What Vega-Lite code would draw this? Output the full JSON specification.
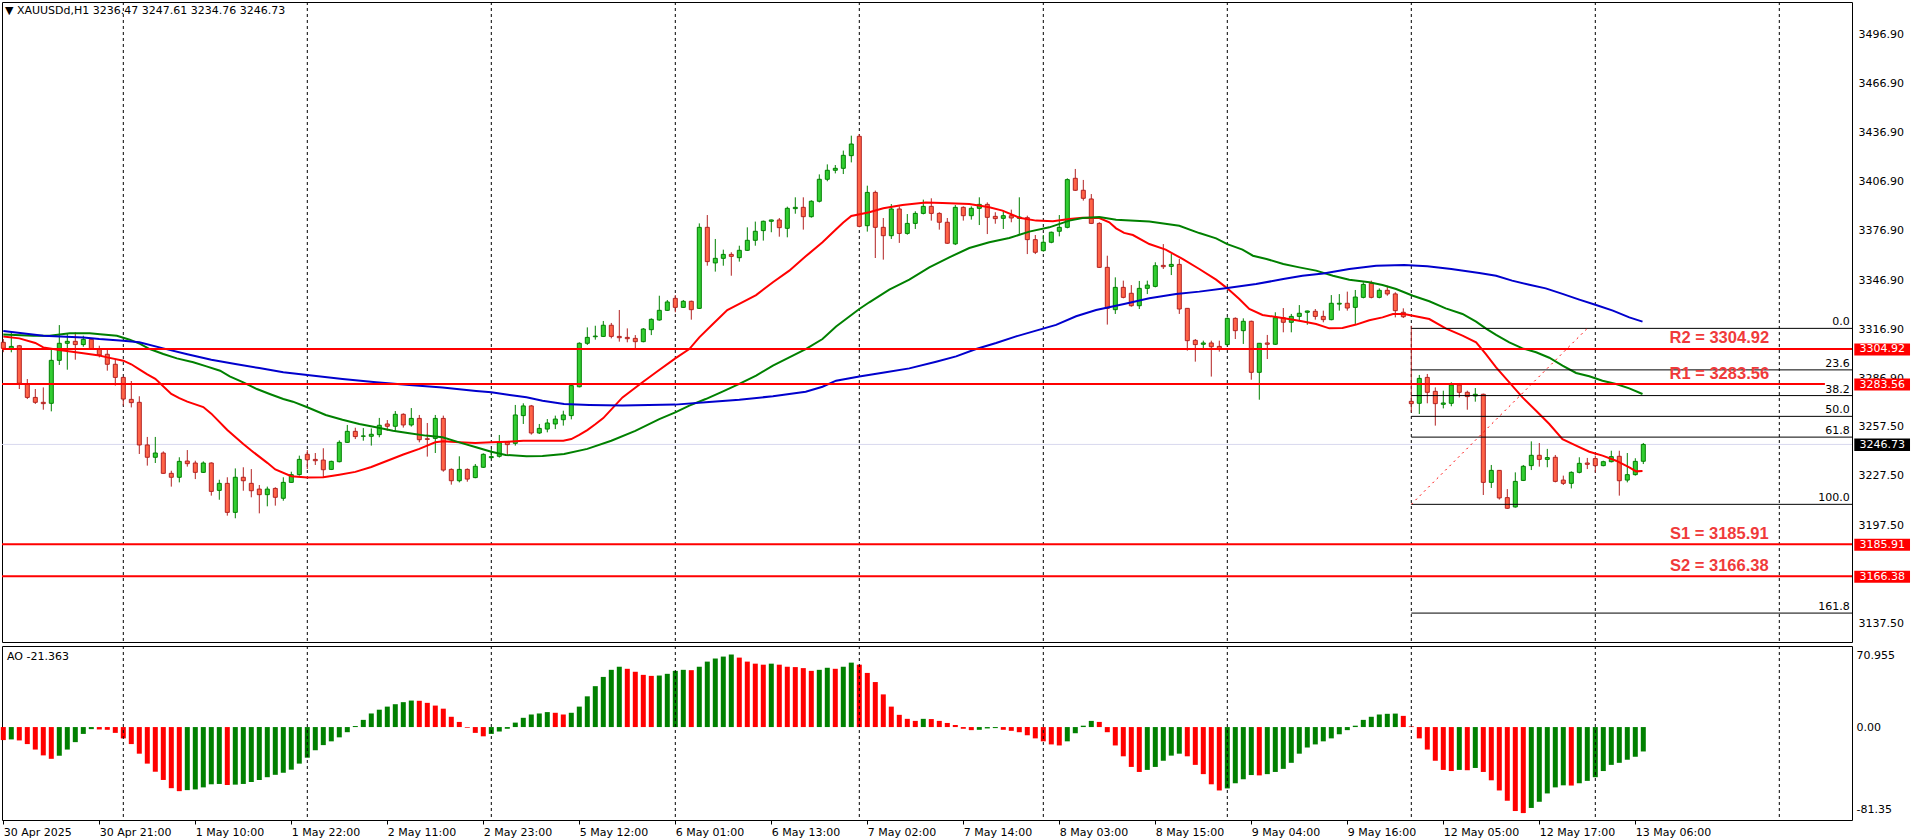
{
  "$schema": "https://vega.github.io/schema/vega-lite/v6.json",
  "background": "#ffffff",
  "padding": {"left": -2, "top": 1, "right": 0, "bottom": 0},
  "spacing": 2,
  "resolve": {"scale": {"color": "independent"}},
  "config": {
    "font": "DejaVu Sans",
    "view": {"stroke": "#000000", "strokeWidth": 1},
    "axis": {"labelFont": "DejaVu Sans", "labelFontSize": 11, "labelColor": "#000000"}
  },
  "datasets": {
    "days": [{"i": 15}, {"i": 38}, {"i": 61}, {"i": 84}, {"i": 107}, {"i": 130}, {"i": 153}, {"i": 176}, {"i": 199}, {"i": 222}],
    "last": [{"p": 3246.73}],
    "levels": [
      {"n": "R2", "p": 3304.92, "lab": "R2 = 3304.92"},
      {"n": "R1", "p": 3283.56, "lab": "R1 = 3283.56"},
      {"n": "S1", "p": 3185.91, "lab": "S1 = 3185.91"},
      {"n": "S2", "p": 3166.38, "lab": "S2 = 3166.38"}
    ],
    "fib": [
      {"l": "0.0", "p": 3317.5},
      {"l": "23.6", "p": 3292.18},
      {"l": "38.2", "p": 3276.51},
      {"l": "50.0", "p": 3263.85},
      {"l": "61.8", "p": 3251.19},
      {"l": "100.0", "p": 3210.2},
      {"l": "161.8", "p": 3143.89}
    ],
    "trend": [{"i": 176, "p": 3210.2}, {"i": 198, "p": 3317.5}],
    "candles": [
      {"i":0,"o":3309.0,"h":3311.0,"l":3303.0,"c":3305.3},
      {"i":1,"o":3305.3,"h":3315.1,"l":3302.9,"c":3306.5},
      {"i":2,"o":3306.9,"h":3307.4,"l":3280.5,"c":3284.0},
      {"i":3,"o":3283.8,"h":3286.6,"l":3274.4,"c":3275.4},
      {"i":4,"o":3275.4,"h":3280.5,"l":3271.4,"c":3272.4},
      {"i":5,"o":3272.4,"h":3281.5,"l":3267.9,"c":3271.6},
      {"i":6,"o":3271.8,"h":3304.3,"l":3266.9,"c":3298.0},
      {"i":7,"o":3298.0,"h":3319.5,"l":3295.2,"c":3308.4},
      {"i":8,"o":3308.4,"h":3314.1,"l":3292.3,"c":3309.6},
      {"i":9,"o":3309.6,"h":3315.1,"l":3298.4,"c":3307.6},
      {"i":10,"o":3307.6,"h":3313.0,"l":3306.3,"c":3310.8},
      {"i":11,"o":3310.8,"h":3311.0,"l":3304.5,"c":3304.7},
      {"i":12,"o":3304.7,"h":3306.9,"l":3299.8,"c":3301.3},
      {"i":13,"o":3301.7,"h":3304.5,"l":3291.7,"c":3295.6},
      {"i":14,"o":3295.6,"h":3298.2,"l":3282.6,"c":3287.6},
      {"i":15,"o":3287.6,"h":3288.0,"l":3270.4,"c":3274.4},
      {"i":16,"o":3274.2,"h":3285.4,"l":3269.3,"c":3272.2},
      {"i":17,"o":3272.4,"h":3276.1,"l":3240.9,"c":3246.4},
      {"i":18,"o":3246.4,"h":3251.3,"l":3233.8,"c":3238.9},
      {"i":19,"o":3238.9,"h":3251.3,"l":3235.4,"c":3241.5},
      {"i":20,"o":3241.5,"h":3242.5,"l":3228.9,"c":3229.1},
      {"i":21,"o":3229.1,"h":3230.7,"l":3221.0,"c":3226.7},
      {"i":22,"o":3226.7,"h":3238.9,"l":3223.6,"c":3236.4},
      {"i":23,"o":3236.6,"h":3243.3,"l":3233.2,"c":3235.0},
      {"i":24,"o":3235.4,"h":3236.8,"l":3225.6,"c":3229.7},
      {"i":25,"o":3229.7,"h":3236.4,"l":3229.3,"c":3235.4},
      {"i":26,"o":3235.4,"h":3235.8,"l":3215.5,"c":3218.1},
      {"i":27,"o":3218.7,"h":3225.2,"l":3213.0,"c":3223.0},
      {"i":28,"o":3223.0,"h":3226.7,"l":3203.3,"c":3205.3},
      {"i":29,"o":3205.3,"h":3232.1,"l":3201.7,"c":3226.7},
      {"i":30,"o":3226.7,"h":3232.8,"l":3218.5,"c":3224.6},
      {"i":31,"o":3223.0,"h":3231.7,"l":3214.5,"c":3218.5},
      {"i":32,"o":3219.5,"h":3222.0,"l":3204.7,"c":3216.1},
      {"i":33,"o":3216.1,"h":3221.0,"l":3209.0,"c":3219.5},
      {"i":34,"o":3219.9,"h":3220.6,"l":3209.4,"c":3214.5},
      {"i":35,"o":3213.9,"h":3226.7,"l":3212.4,"c":3223.6},
      {"i":36,"o":3223.6,"h":3230.1,"l":3223.4,"c":3228.3},
      {"i":37,"o":3228.3,"h":3239.9,"l":3227.7,"c":3237.6},
      {"i":38,"o":3240.7,"h":3243.3,"l":3231.7,"c":3237.4},
      {"i":39,"o":3237.6,"h":3241.5,"l":3234.2,"c":3236.8},
      {"i":40,"o":3237.2,"h":3244.4,"l":3226.7,"c":3231.3},
      {"i":41,"o":3231.5,"h":3236.8,"l":3231.1,"c":3236.4},
      {"i":42,"o":3236.2,"h":3249.2,"l":3235.8,"c":3248.0},
      {"i":43,"o":3248.0,"h":3258.6,"l":3247.6,"c":3254.7},
      {"i":44,"o":3254.7,"h":3256.9,"l":3250.0,"c":3251.5},
      {"i":45,"o":3251.7,"h":3256.7,"l":3249.0,"c":3251.9},
      {"i":46,"o":3251.7,"h":3256.5,"l":3246.0,"c":3252.9},
      {"i":47,"o":3252.7,"h":3262.9,"l":3251.1,"c":3258.4},
      {"i":48,"o":3259.2,"h":3261.6,"l":3255.1,"c":3257.8},
      {"i":49,"o":3257.8,"h":3267.1,"l":3255.1,"c":3265.1},
      {"i":50,"o":3265.1,"h":3265.7,"l":3257.0,"c":3258.6},
      {"i":51,"o":3258.6,"h":3268.9,"l":3257.6,"c":3262.6},
      {"i":52,"o":3262.6,"h":3264.7,"l":3248.0,"c":3249.6},
      {"i":53,"o":3250.2,"h":3259.8,"l":3239.3,"c":3249.8},
      {"i":54,"o":3250.4,"h":3264.7,"l":3241.5,"c":3262.6},
      {"i":55,"o":3262.6,"h":3264.3,"l":3230.1,"c":3231.1},
      {"i":56,"o":3231.5,"h":3232.1,"l":3222.2,"c":3224.6},
      {"i":57,"o":3224.6,"h":3239.5,"l":3223.6,"c":3231.5},
      {"i":58,"o":3231.5,"h":3232.1,"l":3224.0,"c":3225.6},
      {"i":59,"o":3226.5,"h":3234.8,"l":3226.1,"c":3233.4},
      {"i":60,"o":3232.8,"h":3241.3,"l":3232.4,"c":3240.7},
      {"i":61,"o":3238.7,"h":3244.0,"l":3237.8,"c":3239.3},
      {"i":62,"o":3239.5,"h":3252.5,"l":3238.7,"c":3247.8},
      {"i":63,"o":3248.2,"h":3248.6,"l":3240.3,"c":3246.6},
      {"i":64,"o":3247.4,"h":3270.8,"l":3246.0,"c":3264.7},
      {"i":65,"o":3264.3,"h":3271.8,"l":3259.2,"c":3270.2},
      {"i":66,"o":3270.2,"h":3270.8,"l":3252.7,"c":3253.7},
      {"i":67,"o":3253.7,"h":3259.2,"l":3253.1,"c":3256.5},
      {"i":68,"o":3256.1,"h":3262.2,"l":3254.1,"c":3259.8},
      {"i":69,"o":3259.2,"h":3264.3,"l":3256.1,"c":3262.2},
      {"i":70,"o":3261.8,"h":3267.3,"l":3258.2,"c":3264.7},
      {"i":71,"o":3264.3,"h":3283.0,"l":3262.0,"c":3282.6},
      {"i":72,"o":3281.9,"h":3309.0,"l":3281.5,"c":3308.4},
      {"i":73,"o":3308.4,"h":3318.1,"l":3307.4,"c":3312.0},
      {"i":74,"o":3312.4,"h":3319.1,"l":3310.6,"c":3312.8},
      {"i":75,"o":3312.6,"h":3322.0,"l":3312.2,"c":3319.4},
      {"i":76,"o":3319.4,"h":3320.8,"l":3311.4,"c":3312.6},
      {"i":77,"o":3312.6,"h":3328.7,"l":3309.4,"c":3311.8},
      {"i":78,"o":3312.0,"h":3317.5,"l":3309.0,"c":3311.2},
      {"i":79,"o":3311.4,"h":3313.4,"l":3305.3,"c":3309.4},
      {"i":80,"o":3309.4,"h":3317.7,"l":3309.0,"c":3317.1},
      {"i":81,"o":3316.7,"h":3323.6,"l":3313.4,"c":3323.0},
      {"i":82,"o":3322.6,"h":3337.4,"l":3322.2,"c":3328.5},
      {"i":83,"o":3328.5,"h":3334.8,"l":3328.1,"c":3333.6},
      {"i":84,"o":3335.8,"h":3337.8,"l":3327.3,"c":3330.3},
      {"i":85,"o":3330.3,"h":3334.8,"l":3329.9,"c":3334.0},
      {"i":86,"o":3334.0,"h":3334.4,"l":3322.8,"c":3328.9},
      {"i":87,"o":3329.7,"h":3381.5,"l":3329.3,"c":3379.1},
      {"i":88,"o":3379.1,"h":3386.6,"l":3355.7,"c":3358.2},
      {"i":89,"o":3357.4,"h":3372.0,"l":3352.1,"c":3360.2},
      {"i":90,"o":3360.2,"h":3365.5,"l":3355.7,"c":3362.6},
      {"i":91,"o":3362.6,"h":3363.9,"l":3349.6,"c":3361.4},
      {"i":92,"o":3360.6,"h":3367.9,"l":3358.2,"c":3365.1},
      {"i":93,"o":3365.1,"h":3379.1,"l":3364.7,"c":3371.2},
      {"i":94,"o":3371.2,"h":3382.6,"l":3367.9,"c":3376.7},
      {"i":95,"o":3377.1,"h":3383.2,"l":3371.0,"c":3382.8},
      {"i":96,"o":3382.8,"h":3383.8,"l":3376.1,"c":3383.6},
      {"i":97,"o":3383.6,"h":3384.8,"l":3373.4,"c":3378.9},
      {"i":98,"o":3378.5,"h":3391.7,"l":3373.0,"c":3390.7},
      {"i":99,"o":3390.5,"h":3397.4,"l":3387.4,"c":3391.3},
      {"i":100,"o":3391.3,"h":3397.4,"l":3377.7,"c":3385.6},
      {"i":101,"o":3385.6,"h":3395.6,"l":3385.0,"c":3395.0},
      {"i":102,"o":3395.0,"h":3411.4,"l":3394.3,"c":3408.4},
      {"i":103,"o":3408.4,"h":3417.5,"l":3407.2,"c":3413.9},
      {"i":104,"o":3413.9,"h":3417.1,"l":3412.0,"c":3415.1},
      {"i":105,"o":3415.1,"h":3425.9,"l":3411.6,"c":3423.0},
      {"i":106,"o":3422.8,"h":3435.0,"l":3418.7,"c":3429.9},
      {"i":107,"o":3434.6,"h":3436.0,"l":3379.1,"c":3379.7},
      {"i":108,"o":3380.1,"h":3404.5,"l":3376.5,"c":3400.4},
      {"i":109,"o":3400.4,"h":3401.5,"l":3360.4,"c":3379.1},
      {"i":110,"o":3379.1,"h":3384.8,"l":3359.4,"c":3374.0},
      {"i":111,"o":3374.0,"h":3393.3,"l":3372.0,"c":3390.3},
      {"i":112,"o":3390.3,"h":3391.9,"l":3369.6,"c":3375.4},
      {"i":113,"o":3375.4,"h":3387.2,"l":3374.6,"c":3381.5},
      {"i":114,"o":3381.5,"h":3388.9,"l":3378.1,"c":3387.6},
      {"i":115,"o":3387.6,"h":3396.0,"l":3387.0,"c":3391.9},
      {"i":116,"o":3391.9,"h":3396.8,"l":3383.2,"c":3387.6},
      {"i":117,"o":3387.6,"h":3388.3,"l":3377.7,"c":3382.2},
      {"i":118,"o":3382.2,"h":3384.8,"l":3369.0,"c":3369.4},
      {"i":119,"o":3369.0,"h":3392.7,"l":3368.3,"c":3391.3},
      {"i":120,"o":3391.3,"h":3391.9,"l":3383.2,"c":3386.2},
      {"i":121,"o":3386.2,"h":3391.9,"l":3383.8,"c":3390.7},
      {"i":122,"o":3390.7,"h":3397.4,"l":3380.5,"c":3393.1},
      {"i":123,"o":3393.1,"h":3394.3,"l":3375.0,"c":3385.2},
      {"i":124,"o":3385.8,"h":3388.3,"l":3381.3,"c":3384.4},
      {"i":125,"o":3384.6,"h":3389.3,"l":3378.1,"c":3386.2},
      {"i":126,"o":3386.2,"h":3389.9,"l":3382.2,"c":3384.8},
      {"i":127,"o":3384.6,"h":3397.4,"l":3375.0,"c":3385.4},
      {"i":128,"o":3385.0,"h":3386.2,"l":3362.8,"c":3371.6},
      {"i":129,"o":3371.6,"h":3374.4,"l":3362.8,"c":3363.9},
      {"i":130,"o":3364.9,"h":3374.4,"l":3364.3,"c":3370.0},
      {"i":131,"o":3370.0,"h":3376.5,"l":3369.4,"c":3376.1},
      {"i":132,"o":3376.7,"h":3386.6,"l":3373.6,"c":3379.1},
      {"i":133,"o":3379.1,"h":3409.0,"l":3378.5,"c":3408.2},
      {"i":134,"o":3409.0,"h":3414.7,"l":3401.3,"c":3401.7},
      {"i":135,"o":3401.7,"h":3408.0,"l":3395.4,"c":3396.8},
      {"i":136,"o":3396.4,"h":3399.4,"l":3381.1,"c":3381.5},
      {"i":137,"o":3381.5,"h":3382.2,"l":3354.3,"c":3354.7},
      {"i":138,"o":3354.7,"h":3361.8,"l":3319.8,"c":3329.7},
      {"i":139,"o":3328.9,"h":3348.6,"l":3326.3,"c":3342.5},
      {"i":140,"o":3342.5,"h":3346.6,"l":3335.8,"c":3336.4},
      {"i":141,"o":3338.9,"h":3343.9,"l":3330.7,"c":3331.3},
      {"i":142,"o":3331.3,"h":3346.4,"l":3329.3,"c":3341.9},
      {"i":143,"o":3341.9,"h":3346.6,"l":3338.4,"c":3343.9},
      {"i":144,"o":3343.1,"h":3357.8,"l":3342.5,"c":3355.7},
      {"i":145,"o":3355.9,"h":3368.9,"l":3353.7,"c":3355.1},
      {"i":146,"o":3355.3,"h":3362.8,"l":3350.0,"c":3356.5},
      {"i":147,"o":3356.5,"h":3359.8,"l":3326.3,"c":3329.3},
      {"i":148,"o":3329.7,"h":3329.9,"l":3303.9,"c":3310.0},
      {"i":149,"o":3310.2,"h":3311.0,"l":3297.2,"c":3307.6},
      {"i":150,"o":3307.8,"h":3310.0,"l":3305.3,"c":3308.6},
      {"i":151,"o":3308.6,"h":3310.0,"l":3288.1,"c":3306.3},
      {"i":152,"o":3306.5,"h":3310.0,"l":3303.3,"c":3304.9},
      {"i":153,"o":3307.6,"h":3324.2,"l":3307.0,"c":3323.6},
      {"i":154,"o":3323.6,"h":3324.2,"l":3311.0,"c":3316.1},
      {"i":155,"o":3316.1,"h":3323.6,"l":3308.0,"c":3321.8},
      {"i":156,"o":3321.8,"h":3322.2,"l":3286.2,"c":3290.7},
      {"i":157,"o":3290.7,"h":3308.6,"l":3274.0,"c":3308.4},
      {"i":158,"o":3308.6,"h":3313.5,"l":3298.8,"c":3307.8},
      {"i":159,"o":3307.8,"h":3327.3,"l":3307.4,"c":3324.0},
      {"i":160,"o":3324.0,"h":3329.9,"l":3315.1,"c":3321.2},
      {"i":161,"o":3321.2,"h":3326.3,"l":3315.1,"c":3324.8},
      {"i":162,"o":3324.8,"h":3331.7,"l":3321.8,"c":3326.7},
      {"i":163,"o":3327.3,"h":3328.3,"l":3319.7,"c":3328.1},
      {"i":164,"o":3327.9,"h":3329.3,"l":3322.8,"c":3324.8},
      {"i":165,"o":3324.8,"h":3328.3,"l":3321.2,"c":3322.8},
      {"i":166,"o":3322.8,"h":3337.8,"l":3322.4,"c":3332.8},
      {"i":167,"o":3332.3,"h":3338.4,"l":3328.3,"c":3332.8},
      {"i":168,"o":3332.8,"h":3339.9,"l":3328.3,"c":3329.9},
      {"i":169,"o":3330.3,"h":3340.9,"l":3320.2,"c":3336.6},
      {"i":170,"o":3336.4,"h":3345.6,"l":3335.8,"c":3344.3},
      {"i":171,"o":3344.9,"h":3346.6,"l":3335.8,"c":3336.4},
      {"i":172,"o":3336.4,"h":3341.9,"l":3335.8,"c":3340.7},
      {"i":173,"o":3340.7,"h":3343.5,"l":3337.4,"c":3338.5},
      {"i":174,"o":3338.5,"h":3339.5,"l":3324.2,"c":3328.3},
      {"i":175,"o":3327.3,"h":3329.7,"l":3323.8,"c":3324.6},
      {"i":176,"o":3273.0,"h":3319.1,"l":3266.3,"c":3271.6},
      {"i":177,"o":3271.8,"h":3289.1,"l":3265.3,"c":3287.0},
      {"i":178,"o":3287.6,"h":3289.7,"l":3271.8,"c":3278.5},
      {"i":179,"o":3279.1,"h":3281.5,"l":3258.2,"c":3271.6},
      {"i":180,"o":3271.2,"h":3279.5,"l":3268.7,"c":3272.0},
      {"i":181,"o":3271.8,"h":3284.6,"l":3270.0,"c":3283.0},
      {"i":182,"o":3283.0,"h":3284.2,"l":3275.4,"c":3278.5},
      {"i":183,"o":3278.5,"h":3279.5,"l":3267.9,"c":3275.9},
      {"i":184,"o":3276.3,"h":3281.1,"l":3272.8,"c":3277.3},
      {"i":185,"o":3277.3,"h":3277.7,"l":3215.9,"c":3223.6},
      {"i":186,"o":3223.6,"h":3234.2,"l":3220.2,"c":3230.9},
      {"i":187,"o":3230.9,"h":3231.1,"l":3213.1,"c":3214.1},
      {"i":188,"o":3214.3,"h":3219.5,"l":3207.4,"c":3207.8},
      {"i":189,"o":3208.6,"h":3229.7,"l":3208.2,"c":3224.2},
      {"i":190,"o":3224.8,"h":3234.2,"l":3224.4,"c":3233.4},
      {"i":191,"o":3233.8,"h":3248.6,"l":3231.1,"c":3240.1},
      {"i":192,"o":3240.1,"h":3247.6,"l":3233.2,"c":3237.6},
      {"i":193,"o":3237.6,"h":3244.0,"l":3232.8,"c":3238.7},
      {"i":194,"o":3238.9,"h":3240.3,"l":3223.6,"c":3224.2},
      {"i":195,"o":3225.0,"h":3227.7,"l":3222.0,"c":3223.0},
      {"i":196,"o":3223.0,"h":3230.3,"l":3219.9,"c":3229.7},
      {"i":197,"o":3229.7,"h":3238.9,"l":3229.1,"c":3235.2},
      {"i":198,"o":3235.4,"h":3238.5,"l":3231.7,"c":3234.6},
      {"i":199,"o":3238.1,"h":3239.9,"l":3229.7,"c":3233.8},
      {"i":200,"o":3233.8,"h":3236.8,"l":3233.4,"c":3236.2},
      {"i":201,"o":3236.2,"h":3242.9,"l":3235.8,"c":3239.3},
      {"i":202,"o":3239.5,"h":3242.9,"l":3215.5,"c":3224.6},
      {"i":203,"o":3225.0,"h":3241.5,"l":3223.6,"c":3228.3},
      {"i":204,"o":3228.3,"h":3238.3,"l":3227.7,"c":3236.4},
      {"i":205,"o":3236.47,"h":3247.61,"l":3234.76,"c":3246.73}
    ],
    "ma": [
      {"k":"r","i":0,"p":3312.6},{"k":"r","i":2,"p":3311.4},{"k":"r","i":4,"p":3308.6},{"k":"r","i":5,"p":3305.9},
      {"k":"r","i":7,"p":3304.3},{"k":"r","i":10,"p":3302.3},{"k":"r","i":12,"p":3301.0},{"k":"r","i":13,"p":3299.8},
      {"k":"r","i":15,"p":3297.8},{"k":"r","i":16,"p":3295.6},{"k":"r","i":17,"p":3292.5},{"k":"r","i":18,"p":3289.5},
      {"k":"r","i":19,"p":3286.7},{"k":"r","i":21,"p":3277.5},{"k":"r","i":22,"p":3275.0},{"k":"r","i":23,"p":3272.8},
      {"k":"r","i":25,"p":3269.5},{"k":"r","i":26,"p":3265.5},{"k":"r","i":28,"p":3255.5},{"k":"r","i":30,"p":3247.0},
      {"k":"r","i":31,"p":3243.0},{"k":"r","i":33,"p":3235.5},{"k":"r","i":34,"p":3231.5},{"k":"r","i":36,"p":3227.3},
      {"k":"r","i":38,"p":3226.5},{"k":"r","i":40,"p":3226.7},{"k":"r","i":42,"p":3228.3},{"k":"r","i":44,"p":3230.0},
      {"k":"r","i":46,"p":3233.0},{"k":"r","i":48,"p":3236.8},{"k":"r","i":50,"p":3240.6},{"k":"r","i":52,"p":3244.0},
      {"k":"r","i":54,"p":3248.0},{"k":"r","i":55,"p":3248.6},{"k":"r","i":57,"p":3248.0},{"k":"r","i":59,"p":3247.6},
      {"k":"r","i":61,"p":3248.0},{"k":"r","i":63,"p":3248.4},{"k":"r","i":65,"p":3249.0},{"k":"r","i":70,"p":3249.0},
      {"k":"r","i":71,"p":3250.0},{"k":"r","i":72,"p":3252.5},{"k":"r","i":73,"p":3255.5},{"k":"r","i":74,"p":3259.0},
      {"k":"r","i":75,"p":3262.8},{"k":"r","i":77.4,"p":3275.4},{"k":"r","i":79.9,"p":3284.6},{"k":"r","i":81.6,"p":3290.7},
      {"k":"r","i":84,"p":3299.2},{"k":"r","i":85.75,"p":3304.9},{"k":"r","i":87,"p":3312.0},{"k":"r","i":88.7,"p":3320.2},
      {"k":"r","i":90.5,"p":3328.7},{"k":"r","i":92,"p":3332.4},{"k":"r","i":94.1,"p":3337.8},{"k":"r","i":96.2,"p":3345.6},
      {"k":"r","i":98.25,"p":3352.7},{"k":"r","i":100.3,"p":3361.4},{"k":"r","i":102.4,"p":3370.0},{"k":"r","i":104,"p":3377.5},
      {"k":"r","i":105,"p":3382.0},{"k":"r","i":106,"p":3386.0},{"k":"r","i":108.25,"p":3388.3},{"k":"r","i":110,"p":3390.7},
      {"k":"r","i":112.4,"p":3392.7},{"k":"r","i":115.3,"p":3394.2},{"k":"r","i":117.4,"p":3394.0},{"k":"r","i":120.75,"p":3393.3},
      {"k":"r","i":123.25,"p":3391.3},{"k":"r","i":124.9,"p":3389.3},{"k":"r","i":127,"p":3385.0},{"k":"r","i":129.1,"p":3383.2},
      {"k":"r","i":131.2,"p":3382.8},{"k":"r","i":133.25,"p":3384.2},{"k":"r","i":134.9,"p":3385.0},{"k":"r","i":137,"p":3384.8},
      {"k":"r","i":138.25,"p":3382.2},{"k":"r","i":139.1,"p":3378.5},{"k":"r","i":140.1,"p":3375.7},{"k":"r","i":141.2,"p":3374.4},
      {"k":"r","i":143.25,"p":3368.9},{"k":"r","i":145.3,"p":3365.5},{"k":"r","i":147.4,"p":3359.8},{"k":"r","i":149.5,"p":3353.7},
      {"k":"r","i":151.6,"p":3347.2},{"k":"r","i":153,"p":3341.9},{"k":"r","i":154.5,"p":3335.4},{"k":"r","i":155.75,"p":3329.3},
      {"k":"r","i":157.4,"p":3325.7},{"k":"r","i":159.1,"p":3324.4},{"k":"r","i":162,"p":3322.2},{"k":"r","i":164.1,"p":3320.2},
      {"k":"r","i":165.75,"p":3317.5},{"k":"r","i":167.4,"p":3317.7},{"k":"r","i":169.1,"p":3319.8},{"k":"r","i":170.75,"p":3322.4},
      {"k":"r","i":172.4,"p":3324.2},{"k":"r","i":173.7,"p":3326.3},{"k":"r","i":175.1,"p":3326.3},{"k":"r","i":176.2,"p":3325.2},
      {"k":"r","i":178.25,"p":3323.2},{"k":"r","i":180.3,"p":3317.5},{"k":"r","i":182.4,"p":3313.1},{"k":"r","i":184.1,"p":3309.0},
      {"k":"r","i":185.3,"p":3301.9},{"k":"r","i":186.6,"p":3293.7},{"k":"r","i":188.25,"p":3284.6},{"k":"r","i":189.9,"p":3275.4},
      {"k":"r","i":191.6,"p":3267.3},{"k":"r","i":193.25,"p":3259.2},{"k":"r","i":194.9,"p":3250.0},{"k":"r","i":196.6,"p":3246.0},
      {"k":"r","i":198.25,"p":3242.3},{"k":"r","i":199.9,"p":3239.9},{"k":"r","i":201.6,"p":3236.8},{"k":"r","i":203.25,"p":3232.8},
      {"k":"r","i":204.1,"p":3230.3},{"k":"r","i":204.9,"p":3230.5},
      {"k":"g","i":0,"p":3313.7},{"k":"g","i":3.75,"p":3313.0},{"k":"g","i":5.8,"p":3313.0},{"k":"g","i":8.3,"p":3314.5},
      {"k":"g","i":10.8,"p":3314.5},{"k":"g","i":12.1,"p":3313.9},{"k":"g","i":14.2,"p":3313.0},{"k":"g","i":15.8,"p":3310.6},
      {"k":"g","i":17.1,"p":3308.0},{"k":"g","i":18.3,"p":3304.9},{"k":"g","i":20,"p":3301.9},{"k":"g","i":21.7,"p":3299.2},
      {"k":"g","i":23.75,"p":3296.8},{"k":"g","i":25.4,"p":3294.3},{"k":"g","i":27.1,"p":3291.7},{"k":"g","i":28.3,"p":3288.2},
      {"k":"g","i":30,"p":3284.6},{"k":"g","i":31.7,"p":3280.5},{"k":"g","i":33.3,"p":3277.5},{"k":"g","i":35,"p":3274.4},
      {"k":"g","i":36.2,"p":3272.8},{"k":"g","i":38,"p":3269.4},{"k":"g","i":40.3,"p":3264.7},{"k":"g","i":42.4,"p":3261.8},
      {"k":"g","i":44.5,"p":3259.2},{"k":"g","i":46.6,"p":3257.2},{"k":"g","i":48.7,"p":3255.1},{"k":"g","i":50.75,"p":3253.5},
      {"k":"g","i":52.8,"p":3252.1},{"k":"g","i":54.9,"p":3251.1},{"k":"g","i":57,"p":3248.0},{"k":"g","i":59.1,"p":3245.0},
      {"k":"g","i":61,"p":3242.3},{"k":"g","i":62.8,"p":3240.3},{"k":"g","i":65.4,"p":3239.5},{"k":"g","i":67.4,"p":3239.7},
      {"k":"g","i":70.1,"p":3240.9},{"k":"g","i":73,"p":3244.0},{"k":"g","i":76,"p":3249.0},{"k":"g","i":79,"p":3255.0},
      {"k":"g","i":82,"p":3262.2},{"k":"g","i":84,"p":3266.3},{"k":"g","i":85.75,"p":3270.4},{"k":"g","i":87.8,"p":3274.4},
      {"k":"g","i":89.9,"p":3278.9},{"k":"g","i":92,"p":3283.6},{"k":"g","i":94.1,"p":3288.7},{"k":"g","i":96.2,"p":3294.8},
      {"k":"g","i":98.25,"p":3299.8},{"k":"g","i":100.3,"p":3304.9},{"k":"g","i":102.4,"p":3311.0},{"k":"g","i":104.1,"p":3318.7},
      {"k":"g","i":107,"p":3329.3},{"k":"g","i":108.25,"p":3333.4},{"k":"g","i":110.75,"p":3341.1},{"k":"g","i":113.25,"p":3347.2},
      {"k":"g","i":115.75,"p":3354.7},{"k":"g","i":118.25,"p":3360.8},{"k":"g","i":120.75,"p":3366.5},{"k":"g","i":123.25,"p":3370.0},
      {"k":"g","i":125.75,"p":3372.6},{"k":"g","i":128.25,"p":3376.5},{"k":"g","i":130.75,"p":3379.1},{"k":"g","i":133.25,"p":3383.2},
      {"k":"g","i":134.9,"p":3384.8},{"k":"g","i":137,"p":3385.4},{"k":"g","i":139.1,"p":3383.8},{"k":"g","i":143.25,"p":3382.6},
      {"k":"g","i":147,"p":3380.1},{"k":"g","i":149.5,"p":3375.6},{"k":"g","i":151.6,"p":3372.4},{"k":"g","i":153,"p":3368.9},
      {"k":"g","i":154.9,"p":3365.5},{"k":"g","i":156.2,"p":3361.8},{"k":"g","i":157.9,"p":3359.8},{"k":"g","i":160,"p":3356.7},
      {"k":"g","i":162,"p":3354.7},{"k":"g","i":164.1,"p":3352.7},{"k":"g","i":166.2,"p":3349.6},{"k":"g","i":168.25,"p":3347.2},
      {"k":"g","i":170.75,"p":3345.6},{"k":"g","i":172.4,"p":3343.9},{"k":"g","i":174.1,"p":3341.5},{"k":"g","i":176.2,"p":3337.4},
      {"k":"g","i":178.25,"p":3334.0},{"k":"g","i":180.3,"p":3329.7},{"k":"g","i":182.4,"p":3326.3},{"k":"g","i":184.1,"p":3321.6},
      {"k":"g","i":185.3,"p":3317.5},{"k":"g","i":186.6,"p":3313.5},{"k":"g","i":188.25,"p":3309.0},{"k":"g","i":189.9,"p":3305.3},
      {"k":"g","i":191.6,"p":3302.9},{"k":"g","i":193.25,"p":3299.6},{"k":"g","i":194.9,"p":3294.8},{"k":"g","i":196.6,"p":3290.3},
      {"k":"g","i":198.25,"p":3288.3},{"k":"g","i":199.9,"p":3285.6},{"k":"g","i":201.6,"p":3283.6},{"k":"g","i":203.25,"p":3280.9},
      {"k":"g","i":204.9,"p":3277.5},
      {"k":"b","i":0,"p":3315.9},{"k":"b","i":5,"p":3313.0},{"k":"b","i":10,"p":3312.0},{"k":"b","i":12,"p":3311.0},
      {"k":"b","i":15,"p":3310.0},{"k":"b","i":17,"p":3309.0},{"k":"b","i":20,"p":3305.3},{"k":"b","i":23,"p":3301.7},
      {"k":"b","i":26,"p":3298.4},{"k":"b","i":29,"p":3295.8},{"k":"b","i":32,"p":3293.3},{"k":"b","i":35,"p":3290.7},
      {"k":"b","i":38,"p":3289.1},{"k":"b","i":42.4,"p":3286.6},{"k":"b","i":46.6,"p":3284.6},{"k":"b","i":50.75,"p":3283.0},
      {"k":"b","i":54.9,"p":3281.5},{"k":"b","i":59.1,"p":3279.3},{"k":"b","i":61,"p":3278.5},{"k":"b","i":63.3,"p":3276.9},
      {"k":"b","i":65.4,"p":3275.5},{"k":"b","i":67.4,"p":3273.4},{"k":"b","i":70.1,"p":3271.4},{"k":"b","i":73.25,"p":3270.8},
      {"k":"b","i":77.4,"p":3270.4},{"k":"b","i":84,"p":3271.0},{"k":"b","i":87.8,"p":3272.4},{"k":"b","i":92,"p":3274.0},
      {"k":"b","i":96.2,"p":3276.1},{"k":"b","i":100.3,"p":3278.9},{"k":"b","i":102.4,"p":3281.9},{"k":"b","i":104.1,"p":3285.6},
      {"k":"b","i":107,"p":3288.2},{"k":"b","i":110.3,"p":3290.7},{"k":"b","i":113.25,"p":3293.1},{"k":"b","i":116.6,"p":3297.2},
      {"k":"b","i":119.1,"p":3300.4},{"k":"b","i":121.6,"p":3304.9},{"k":"b","i":124.1,"p":3308.6},{"k":"b","i":126.6,"p":3312.6},
      {"k":"b","i":129.1,"p":3316.1},{"k":"b","i":131.6,"p":3319.6},{"k":"b","i":134.1,"p":3324.9},{"k":"b","i":136.6,"p":3328.7},
      {"k":"b","i":140.1,"p":3332.4},{"k":"b","i":143.25,"p":3335.8},{"k":"b","i":146.6,"p":3338.5},{"k":"b","i":149.5,"p":3339.9},
      {"k":"b","i":153,"p":3342.1},{"k":"b","i":156.6,"p":3344.5},{"k":"b","i":160,"p":3347.6},{"k":"b","i":162.4,"p":3349.6},
      {"k":"b","i":165,"p":3351.0},{"k":"b","i":168.25,"p":3353.7},{"k":"b","i":171.6,"p":3355.7},{"k":"b","i":175.1,"p":3356.1},
      {"k":"b","i":178,"p":3355.3},{"k":"b","i":181,"p":3353.7},{"k":"b","i":184.5,"p":3351.3},{"k":"b","i":186.6,"p":3349.6},
      {"k":"b","i":188.6,"p":3346.6},{"k":"b","i":190.75,"p":3344.1},{"k":"b","i":192.8,"p":3341.9},{"k":"b","i":194.9,"p":3338.5},
      {"k":"b","i":197,"p":3335.0},{"k":"b","i":199.1,"p":3331.7},{"k":"b","i":201.2,"p":3328.3},{"k":"b","i":203.25,"p":3324.2},
      {"k":"b","i":204.9,"p":3321.6}
    ],
    "ao": [
      {"i":0,"v":-11.4,"t":"d"},{"i":1,"v":-10.8,"t":"u"},{"i":2,"v":-11.7,"t":"d"},{"i":3,"v":-14.9,"t":"d"},
      {"i":4,"v":-19.7,"t":"d"},{"i":5,"v":-24.8,"t":"d"},{"i":6,"v":-27.8,"t":"d"},{"i":7,"v":-25.1,"t":"u"},
      {"i":8,"v":-19.7,"t":"u"},{"i":9,"v":-13.2,"t":"u"},{"i":10,"v":-6.0,"t":"u"},{"i":11,"v":-1.8,"t":"u"},
      {"i":12,"v":-2.1,"t":"d"},{"i":13,"v":-2.4,"t":"d"},{"i":14,"v":-5.1,"t":"d"},{"i":15,"v":-9.9,"t":"d"},
      {"i":16,"v":-14.9,"t":"d"},{"i":17,"v":-23.3,"t":"d"},{"i":18,"v":-32.0,"t":"d"},{"i":19,"v":-39.1,"t":"d"},
      {"i":20,"v":-46.3,"t":"d"},{"i":21,"v":-53.5,"t":"d"},{"i":22,"v":-56.1,"t":"d"},{"i":23,"v":-55.2,"t":"u"},
      {"i":24,"v":-54.6,"t":"u"},{"i":25,"v":-52.8,"t":"u"},{"i":26,"v":-50.1,"t":"u"},{"i":27,"v":-49.8,"t":"u"},
      {"i":28,"v":-50.7,"t":"d"},{"i":29,"v":-50.4,"t":"u"},{"i":30,"v":-49.8,"t":"u"},{"i":31,"v":-48.1,"t":"u"},
      {"i":32,"v":-46.3,"t":"u"},{"i":33,"v":-43.9,"t":"u"},{"i":34,"v":-41.8,"t":"u"},{"i":35,"v":-40.0,"t":"u"},
      {"i":36,"v":-37.3,"t":"u"},{"i":37,"v":-32.0,"t":"u"},{"i":38,"v":-26.8,"t":"u"},{"i":39,"v":-20.3,"t":"u"},
      {"i":40,"v":-15.8,"t":"u"},{"i":41,"v":-12.5,"t":"u"},{"i":42,"v":-9.0,"t":"u"},{"i":43,"v":-4.5,"t":"u"},
      {"i":44,"v":0.9,"t":"u"},{"i":45,"v":6.3,"t":"u"},{"i":46,"v":11.9,"t":"u"},{"i":47,"v":15.2,"t":"u"},
      {"i":48,"v":17.9,"t":"u"},{"i":49,"v":20.0,"t":"u"},{"i":50,"v":21.8,"t":"u"},{"i":51,"v":23.2,"t":"u"},
      {"i":52,"v":23.0,"t":"d"},{"i":53,"v":21.2,"t":"d"},{"i":54,"v":18.8,"t":"d"},{"i":55,"v":16.1,"t":"d"},
      {"i":56,"v":9.0,"t":"d"},{"i":57,"v":4.5,"t":"d"},{"i":58,"v":-0.6,"t":"d"},{"i":59,"v":-5.1,"t":"d"},
      {"i":60,"v":-8.1,"t":"d"},{"i":61,"v":-6.0,"t":"u"},{"i":62,"v":-3.9,"t":"u"},{"i":63,"v":-1.5,"t":"u"},
      {"i":64,"v":3.9,"t":"u"},{"i":65,"v":8.1,"t":"u"},{"i":66,"v":11.0,"t":"u"},{"i":67,"v":11.9,"t":"u"},
      {"i":68,"v":13.1,"t":"u"},{"i":69,"v":12.5,"t":"d"},{"i":70,"v":11.0,"t":"d"},{"i":71,"v":12.5,"t":"u"},
      {"i":72,"v":17.9,"t":"u"},{"i":73,"v":26.9,"t":"u"},{"i":74,"v":35.8,"t":"u"},{"i":75,"v":43.9,"t":"u"},
      {"i":76,"v":50.1,"t":"u"},{"i":77,"v":52.8,"t":"u"},{"i":78,"v":51.0,"t":"d"},{"i":79,"v":48.4,"t":"d"},
      {"i":80,"v":45.7,"t":"d"},{"i":81,"v":44.8,"t":"d"},{"i":82,"v":45.1,"t":"u"},{"i":83,"v":46.6,"t":"u"},
      {"i":84,"v":49.2,"t":"u"},{"i":85,"v":50.1,"t":"u"},{"i":86,"v":49.8,"t":"d"},{"i":87,"v":52.8,"t":"u"},
      {"i":88,"v":57.3,"t":"u"},{"i":89,"v":60.0,"t":"u"},{"i":90,"v":61.7,"t":"u"},{"i":91,"v":63.5,"t":"u"},
      {"i":92,"v":60.8,"t":"d"},{"i":93,"v":57.3,"t":"d"},{"i":94,"v":55.5,"t":"d"},{"i":95,"v":54.6,"t":"d"},
      {"i":96,"v":55.5,"t":"u"},{"i":97,"v":54.6,"t":"d"},{"i":98,"v":52.8,"t":"d"},{"i":99,"v":52.5,"t":"d"},
      {"i":100,"v":51.6,"t":"d"},{"i":101,"v":49.2,"t":"d"},{"i":102,"v":50.1,"t":"u"},{"i":103,"v":51.9,"t":"u"},
      {"i":104,"v":51.0,"t":"d"},{"i":105,"v":52.8,"t":"u"},{"i":106,"v":56.4,"t":"u"},{"i":107,"v":54.6,"t":"d"},
      {"i":108,"v":47.4,"t":"d"},{"i":109,"v":39.4,"t":"d"},{"i":110,"v":28.6,"t":"d"},{"i":111,"v":17.9,"t":"d"},
      {"i":112,"v":10.7,"t":"d"},{"i":113,"v":7.2,"t":"d"},{"i":114,"v":5.4,"t":"d"},{"i":115,"v":7.2,"t":"u"},
      {"i":116,"v":7.0,"t":"d"},{"i":117,"v":5.4,"t":"d"},{"i":118,"v":3.6,"t":"d"},{"i":119,"v":1.8,"t":"d"},
      {"i":120,"v":-1.5,"t":"d"},{"i":121,"v":-2.7,"t":"d"},{"i":122,"v":-2.4,"t":"u"},{"i":123,"v":-1.2,"t":"u"},
      {"i":124,"v":-0.9,"t":"u"},{"i":125,"v":-2.4,"t":"d"},{"i":126,"v":-3.3,"t":"d"},{"i":127,"v":-4.5,"t":"d"},
      {"i":128,"v":-7.2,"t":"d"},{"i":129,"v":-9.9,"t":"d"},{"i":130,"v":-12.5,"t":"d"},{"i":131,"v":-15.2,"t":"d"},
      {"i":132,"v":-16.1,"t":"d"},{"i":133,"v":-12.5,"t":"u"},{"i":134,"v":-5.4,"t":"u"},{"i":135,"v":1.2,"t":"u"},
      {"i":136,"v":5.4,"t":"u"},{"i":137,"v":4.5,"t":"d"},{"i":138,"v":-4.5,"t":"d"},{"i":139,"v":-16.1,"t":"d"},
      {"i":140,"v":-25.6,"t":"d"},{"i":141,"v":-34.9,"t":"d"},{"i":142,"v":-39.3,"t":"d"},{"i":143,"v":-37.5,"t":"u"},
      {"i":144,"v":-34.9,"t":"u"},{"i":145,"v":-29.5,"t":"u"},{"i":146,"v":-25.0,"t":"u"},{"i":147,"v":-23.3,"t":"u"},
      {"i":148,"v":-25.6,"t":"d"},{"i":149,"v":-33.1,"t":"d"},{"i":150,"v":-41.2,"t":"d"},{"i":151,"v":-50.1,"t":"d"},
      {"i":152,"v":-55.5,"t":"d"},{"i":153,"v":-53.7,"t":"u"},{"i":154,"v":-49.2,"t":"u"},{"i":155,"v":-45.7,"t":"u"},
      {"i":156,"v":-42.0,"t":"u"},{"i":157,"v":-42.3,"t":"d"},{"i":158,"v":-41.2,"t":"u"},{"i":159,"v":-39.3,"t":"u"},
      {"i":160,"v":-36.6,"t":"u"},{"i":161,"v":-31.3,"t":"u"},{"i":162,"v":-23.3,"t":"u"},{"i":163,"v":-17.9,"t":"u"},
      {"i":164,"v":-15.2,"t":"u"},{"i":165,"v":-12.5,"t":"u"},{"i":166,"v":-9.9,"t":"u"},{"i":167,"v":-6.3,"t":"u"},
      {"i":168,"v":-2.7,"t":"u"},{"i":169,"v":1.2,"t":"u"},{"i":170,"v":6.3,"t":"u"},{"i":171,"v":9.0,"t":"u"},
      {"i":172,"v":11.0,"t":"u"},{"i":173,"v":11.6,"t":"u"},{"i":174,"v":11.8,"t":"u"},{"i":175,"v":9.8,"t":"d"},
      {"i":176,"v":0.6,"t":"d"},{"i":177,"v":-9.9,"t":"d"},{"i":178,"v":-19.7,"t":"d"},{"i":179,"v":-29.5,"t":"d"},
      {"i":180,"v":-37.5,"t":"d"},{"i":181,"v":-38.5,"t":"d"},{"i":182,"v":-37.5,"t":"u"},{"i":183,"v":-37.8,"t":"d"},
      {"i":184,"v":-35.8,"t":"u"},{"i":185,"v":-39.3,"t":"d"},{"i":186,"v":-46.6,"t":"d"},{"i":187,"v":-55.5,"t":"d"},
      {"i":188,"v":-64.5,"t":"d"},{"i":189,"v":-73.5,"t":"d"},{"i":190,"v":-75.3,"t":"d"},{"i":191,"v":-70.8,"t":"u"},
      {"i":192,"v":-65.4,"t":"u"},{"i":193,"v":-58.1,"t":"u"},{"i":194,"v":-52.8,"t":"u"},{"i":195,"v":-51.0,"t":"u"},
      {"i":196,"v":-51.2,"t":"d"},{"i":197,"v":-49.2,"t":"u"},{"i":198,"v":-47.1,"t":"u"},{"i":199,"v":-43.9,"t":"u"},
      {"i":200,"v":-38.5,"t":"u"},{"i":201,"v":-33.1,"t":"u"},{"i":202,"v":-31.3,"t":"u"},{"i":203,"v":-28.6,"t":"u"},
      {"i":204,"v":-26.0,"t":"u"},{"i":205,"v":-21.363,"t":"u"}
    ]
  },
  "vconcat": [
    {
      "width": 1850,
      "height": 640,
      "layer": [
        {
          "data": {"name": "last"},
          "mark": {"type": "rule", "color": "#d9d9ee", "strokeWidth": 1},
          "encoding": {
            "y": {
              "field": "p", "type": "quantitative",
              "scale": {"domain": [3126.26, 3516.5], "nice": false, "zero": false},
              "axis": {
                "orient": "right",
                "values": [3496.9, 3466.9, 3436.9, 3406.9, 3376.9, 3346.9, 3316.9, 3286.9, 3257.5, 3227.5, 3197.5, 3137.5],
                "format": ".2f", "ticks": false, "domain": false, "grid": false,
                "labelPadding": 6, "labelOverlap": false, "labelBound": false, "title": null
              }
            }
          }
        },
        {
          "data": {"name": "days"},
          "mark": {"type": "rule", "color": "#000000", "strokeWidth": 1, "strokeDash": [3, 3]},
          "encoding": {
            "x": {
              "field": "i", "type": "quantitative",
              "scale": {"domain": [-0.1625, 231.0875], "nice": false, "zero": false, "padding": 0},
              "axis": {"labels": false, "ticks": false, "domain": false, "grid": false, "title": null, "minExtent": 0, "maxExtent": 0}
            }
          }
        },
        {
          "data": {"name": "candles"},
          "mark": {"type": "rule", "strokeWidth": 1},
          "encoding": {
            "x": {"field": "i", "type": "quantitative", "scale": {"domain": [-0.1625, 231.0875], "nice": false, "zero": false, "padding": 0}},
            "y": {"field": "l", "type": "quantitative", "scale": {"domain": [3126.26, 3516.5], "nice": false, "zero": false}},
            "y2": {"field": "h"},
            "color": {"condition": {"test": "datum.c >= datum.o", "value": "#008000"}, "value": "#b22222"}
          }
        },
        {
          "data": {"name": "candles"},
          "mark": {"type": "bar", "width": 4, "strokeWidth": 1},
          "encoding": {
            "x": {"field": "i", "type": "quantitative", "scale": {"domain": [-0.1625, 231.0875], "nice": false, "zero": false, "padding": 0}},
            "y": {"field": "o", "type": "quantitative", "scale": {"domain": [3126.26, 3516.5], "nice": false, "zero": false}},
            "y2": {"field": "c"},
            "fill": {"condition": {"test": "datum.c >= datum.o", "value": "#32cd32"}, "value": "#ff6347"},
            "stroke": {"condition": {"test": "datum.c >= datum.o", "value": "#008000"}, "value": "#b22222"}
          }
        },
        {
          "data": {"name": "ma"},
          "mark": {"type": "line", "strokeWidth": 2},
          "encoding": {
            "x": {"field": "i", "type": "quantitative", "scale": {"domain": [-0.1625, 231.0875], "nice": false, "zero": false, "padding": 0}},
            "y": {"field": "p", "type": "quantitative", "scale": {"domain": [3126.26, 3516.5], "nice": false, "zero": false}},
            "color": {"field": "k", "type": "nominal", "scale": {"domain": ["r", "g", "b"], "range": ["#ff0000", "#008000", "#0000cd"]}, "legend": null}
          }
        },
        {
          "data": {"name": "fib"},
          "mark": {"type": "rule", "color": "#000000", "strokeWidth": 1},
          "encoding": {
            "x": {"datum": 176, "type": "quantitative", "scale": {"domain": [-0.1625, 231.0875], "nice": false, "zero": false, "padding": 0}},
            "x2": {"datum": 231.0875},
            "y": {"field": "p", "type": "quantitative", "scale": {"domain": [3126.26, 3516.5], "nice": false, "zero": false}}
          }
        },
        {
          "data": {"name": "fib"},
          "mark": {"type": "text", "align": "right", "baseline": "alphabetic", "dy": -3, "fontSize": 11, "color": "#000000", "font": "DejaVu Sans"},
          "encoding": {
            "x": {"datum": 230.8, "type": "quantitative", "scale": {"domain": [-0.1625, 231.0875], "nice": false, "zero": false, "padding": 0}},
            "y": {"field": "p", "type": "quantitative", "scale": {"domain": [3126.26, 3516.5], "nice": false, "zero": false}},
            "text": {"field": "l"}
          }
        },
        {
          "data": {"name": "trend"},
          "mark": {"type": "line", "color": "#ff0000", "strokeWidth": 1, "strokeDash": [2, 4]},
          "encoding": {
            "x": {"field": "i", "type": "quantitative", "scale": {"domain": [-0.1625, 231.0875], "nice": false, "zero": false, "padding": 0}},
            "y": {"field": "p", "type": "quantitative", "scale": {"domain": [3126.26, 3516.5], "nice": false, "zero": false}}
          }
        },
        {
          "data": {"name": "levels"},
          "transform": [{"filter": "datum.n != 'R1'"}],
          "mark": {"type": "rule", "color": "#ff0000", "strokeWidth": 2},
          "encoding": {
            "y": {"field": "p", "type": "quantitative", "scale": {"domain": [3126.26, 3516.5], "nice": false, "zero": false}}
          }
        },
        {
          "data": {"name": "levels"},
          "transform": [{"filter": "datum.n == 'R1'"}],
          "mark": {"type": "rule", "color": "#ff0000", "strokeWidth": 2},
          "encoding": {
            "x": {"datum": -0.1625, "type": "quantitative", "scale": {"domain": [-0.1625, 231.0875], "nice": false, "zero": false, "padding": 0}},
            "x2": {"datum": 227.7},
            "y": {"field": "p", "type": "quantitative", "scale": {"domain": [3126.26, 3516.5], "nice": false, "zero": false}}
          }
        },
        {
          "data": {"name": "levels"},
          "mark": {"type": "text", "align": "center", "baseline": "alphabetic", "dy": -5.5, "fontSize": 16.5, "fontWeight": "bold", "font": "Liberation Sans", "color": "#f03a3a"},
          "encoding": {
            "x": {"datum": 214.5, "type": "quantitative", "scale": {"domain": [-0.1625, 231.0875], "nice": false, "zero": false, "padding": 0}},
            "y": {"field": "p", "type": "quantitative", "scale": {"domain": [3126.26, 3516.5], "nice": false, "zero": false}},
            "text": {"field": "lab"}
          }
        },
        {
          "data": {"name": "levels"},
          "mark": {"type": "rect", "color": "#ff0000", "yOffset": -5.5, "y2Offset": 6.5},
          "encoding": {
            "x": {"datum": 231.375, "type": "quantitative", "scale": {"domain": [-0.1625, 231.0875], "nice": false, "zero": false, "padding": 0}},
            "x2": {"datum": 238.34},
            "y": {"field": "p", "type": "quantitative", "scale": {"domain": [3126.26, 3516.5], "nice": false, "zero": false}},
            "y2": {"field": "p"}
          }
        },
        {
          "data": {"name": "last"},
          "mark": {"type": "rect", "color": "#000000", "yOffset": -6, "y2Offset": 6.5},
          "encoding": {
            "x": {"datum": 231.375, "type": "quantitative", "scale": {"domain": [-0.1625, 231.0875], "nice": false, "zero": false, "padding": 0}},
            "x2": {"datum": 238.34},
            "y": {"field": "p", "type": "quantitative", "scale": {"domain": [3126.26, 3516.5], "nice": false, "zero": false}},
            "y2": {"field": "p"}
          }
        },
        {
          "data": {"name": "levels"},
          "mark": {"type": "text", "align": "center", "baseline": "middle", "dy": 0.5, "fontSize": 11, "color": "#ffffff", "font": "DejaVu Sans"},
          "encoding": {
            "x": {"datum": 234.86, "type": "quantitative", "scale": {"domain": [-0.1625, 231.0875], "nice": false, "zero": false, "padding": 0}},
            "y": {"field": "p", "type": "quantitative", "scale": {"domain": [3126.26, 3516.5], "nice": false, "zero": false}},
            "text": {"field": "p", "type": "quantitative", "format": ".2f"}
          }
        },
        {
          "data": {"name": "last"},
          "mark": {"type": "text", "align": "center", "baseline": "middle", "dy": 0.5, "fontSize": 11, "color": "#ffffff", "font": "DejaVu Sans"},
          "encoding": {
            "x": {"datum": 234.86, "type": "quantitative", "scale": {"domain": [-0.1625, 231.0875], "nice": false, "zero": false, "padding": 0}},
            "y": {"field": "p", "type": "quantitative", "scale": {"domain": [3126.26, 3516.5], "nice": false, "zero": false}},
            "text": {"field": "p", "type": "quantitative", "format": ".2f"}
          }
        },
        {
          "data": {"values": [{"t": "▼ XAUUSDd,H1  3236.47 3247.61 3234.76 3246.73"}]},
          "mark": {"type": "text", "align": "left", "baseline": "middle", "fontSize": 11, "color": "#000000", "font": "DejaVu Sans"},
          "encoding": {
            "x": {"datum": 0.2125, "type": "quantitative", "scale": {"domain": [-0.1625, 231.0875], "nice": false, "zero": false, "padding": 0}},
            "y": {"datum": 3511.0, "type": "quantitative", "scale": {"domain": [3126.26, 3516.5], "nice": false, "zero": false}},
            "text": {"field": "t"}
          }
        }
      ]
    },
    {
      "width": 1850,
      "height": 174,
      "layer": [
        {
          "data": {"name": "ao"},
          "mark": {"type": "bar", "width": 5},
          "encoding": {
            "x": {
              "field": "i", "type": "quantitative",
              "scale": {"domain": [-0.1625, 231.0875], "nice": false, "zero": false, "padding": 0},
              "axis": {
                "orient": "bottom",
                "values": [0, 12, 24, 36, 48, 60, 72, 84, 96, 108, 120, 132, 144, 156, 168, 180, 192, 204],
                "labelExpr": "['30 Apr 2025','30 Apr 21:00','1 May 10:00','1 May 22:00','2 May 11:00','2 May 23:00','5 May 12:00','6 May 01:00','6 May 13:00','7 May 02:00','7 May 14:00','8 May 03:00','8 May 15:00','9 May 04:00','9 May 16:00','12 May 05:00','12 May 17:00','13 May 06:00'][round(datum.value / 12)]",
                "labelAlign": "left", "ticks": true, "tickSize": 4, "tickColor": "#000000",
                "domain": false, "grid": false, "labelPadding": 2, "labelOverlap": false,
                "labelBound": false, "labelFlush": false, "title": null
              }
            },
            "y": {
              "field": "v", "type": "quantitative",
              "scale": {"domain": [-81.35, 70.955], "nice": false, "zero": false},
              "axis": {
                "orient": "right",
                "values": [62.8, 0, -71.9],
                "labelExpr": "datum.value > 1 ? '70.955' : (datum.value < -1 ? '-81.35' : '0.00')",
                "ticks": false, "domain": false, "grid": false, "labelPadding": 4,
                "labelOverlap": false, "labelBound": false, "title": null
              }
            },
            "y2": {"datum": 0},
            "color": {"field": "t", "type": "nominal", "scale": {"domain": ["u", "d"], "range": ["#008000", "#ff0000"]}, "legend": null}
          }
        },
        {
          "data": {"name": "days"},
          "mark": {"type": "rule", "color": "#000000", "strokeWidth": 1, "strokeDash": [3, 3]},
          "encoding": {
            "x": {"field": "i", "type": "quantitative", "scale": {"domain": [-0.1625, 231.0875], "nice": false, "zero": false, "padding": 0}}
          }
        },
        {
          "data": {"values": [{"t": "AO -21.363"}]},
          "mark": {"type": "text", "align": "left", "baseline": "middle", "fontSize": 11, "color": "#000000", "font": "DejaVu Sans"},
          "encoding": {
            "x": {"datum": 0.4625, "type": "quantitative", "scale": {"domain": [-0.1625, 231.0875], "nice": false, "zero": false, "padding": 0}},
            "y": {"datum": 61.06, "type": "quantitative", "scale": {"domain": [-81.35, 70.955], "nice": false, "zero": false}},
            "text": {"field": "t"}
          }
        }
      ]
    }
  ]
}
